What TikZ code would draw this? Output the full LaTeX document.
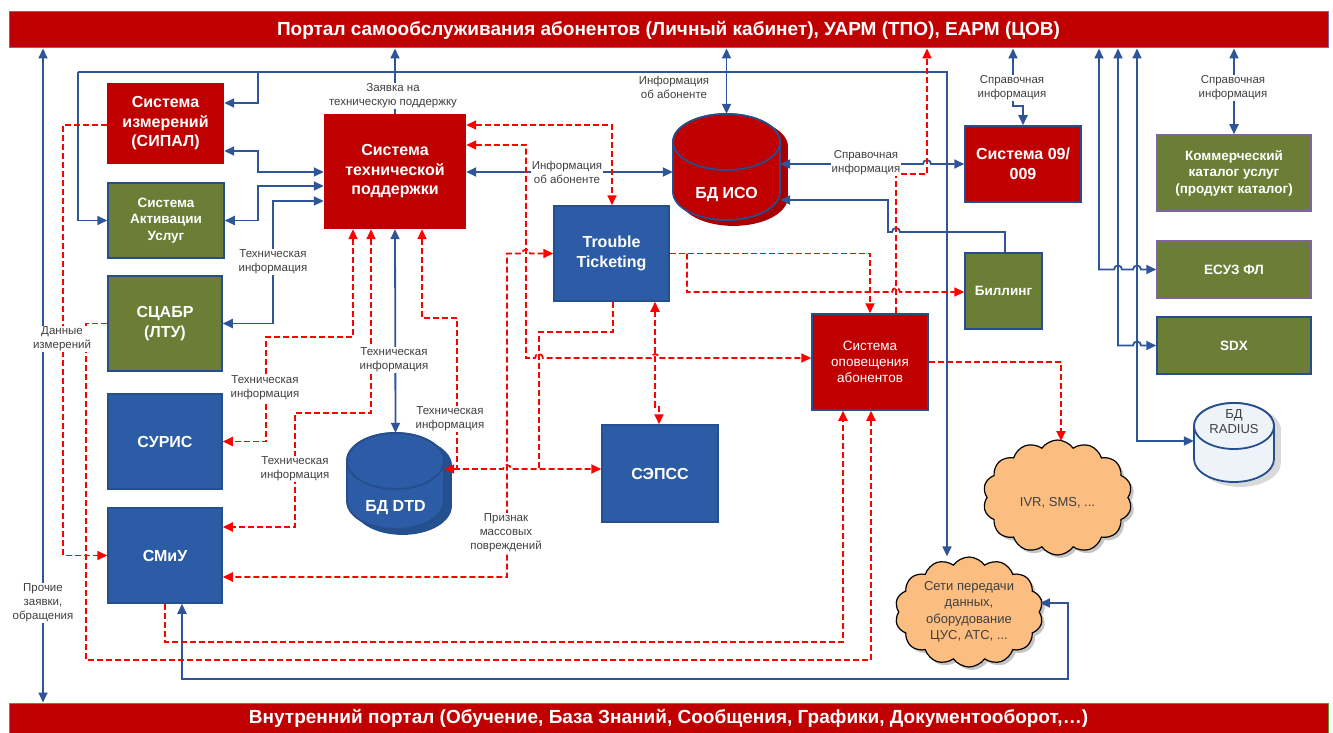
\documentclass[tikz,border=0pt]{standalone}
\usepackage{fontspec}
\setmainfont{Liberation Sans}
\usetikzlibrary{arrows.meta,shapes.symbols,shadows}
\definecolor{cred}{HTML}{C00000}
\definecolor{shadred}{HTML}{A80000}
\definecolor{cblue}{HTML}{2B5CA5}
\definecolor{shadblue}{HTML}{24508F}
\definecolor{cgreen}{HTML}{6A7E36}
\definecolor{lblue}{HTML}{2E5597}
\definecolor{lred}{HTML}{FF0000}
\definecolor{bdblue}{HTML}{264E8C}
\definecolor{bdpurp}{HTML}{8064A2}
\definecolor{bargreen}{HTML}{4F9A3A}
\definecolor{corange}{HTML}{FBBE80}
\definecolor{tgray}{HTML}{404040}
\definecolor{radfill}{HTML}{EEF3FA}
\newcommand\mycyl[7]{%
 \path[fill=#6,draw=#7,line width=1.8pt] (#1-#4,#2) -- (#1-#4,#3) arc[start angle=180,end angle=360,x radius=#4pt,y radius=#5pt] -- (#1+#4,#2) arc[start angle=0,end angle=180,x radius=#4pt,y radius=#5pt] -- cycle;
 \path[fill=#6,draw=#7,line width=1.8pt] (#1,#2) ellipse[x radius=#4pt,y radius=#5pt];}
\begin{document}
\begin{tikzpicture}[x=1pt,y=-1pt,>={Triangle[length=10pt,width=9pt]},
 box/.style={rectangle,inner sep=2pt,align=center,text=white,font=\bfseries\fontsize{16}{19.5}\selectfont},
 smallbox/.style={box,font=\bfseries\fontsize{13.5}{16.5}\selectfont},
 bar/.style={rectangle,fill=cred,draw=bdpurp,line width=1pt,text=white,font=\bfseries\fontsize{19}{22}\selectfont,minimum width=1319pt},
 lbl/.style={fill=white,inner sep=1pt,align=center,text=tgray,font=\fontsize{11.5}{14}\selectfont},
 cldtext/.style={align=center,text=tgray,font=\fontsize{13}{16.5}\selectfont},
 bl/.style={draw=lblue,line width=1.8pt},
 rd/.style={draw=lred,line width=1.8pt,dash pattern=on 6pt off 3pt},
 cld/.style={cloud,cloud puffs=14,cloud puff arc=110,draw=black,line width=1.2pt,fill=corange,inner sep=0pt,drop shadow={shadow xshift=3pt,shadow yshift=-3pt,fill=black!45}}
]
\useasboundingbox (0,0) rectangle (1333,733);
\fill[white] (0,0) rectangle (1333,733);

% bars
\node[bar,minimum height=36pt] (top) at (668.5,30) {Портал самообслуживания абонентов (Личный кабинет), УАРМ (ТПО), ЕАРМ (ЦОВ)};
\node[bar,draw=bargreen,minimum height=31pt] (bot) at (668.5,718.5) {Внутренний портал (Обучение, База Знаний, Сообщения, Графики, Документооборот,…)};

% boxes
\node[box,fill=cred,minimum width=117pt,minimum height=81pt] (sipal) at (165.5,123.5) {Система\\измерений\\(СИПАЛ)};
\node[smallbox,fill=cgreen,draw=bdblue,line width=1.5pt,minimum width=116pt,minimum height=75pt] (akt) at (166,220.5) {Система\\Активации\\Услуг};
\node[box,fill=cgreen,draw=bdblue,line width=1.5pt,minimum width=114pt,minimum height=95pt] (scabr) at (165,323.5) {СЦАБР\\(ЛТУ)};
\node[box,fill=cblue,draw=shadblue,line width=1.5pt,minimum width=114pt,minimum height=95pt] (suris) at (165,441.5) {СУРИС};
\node[box,fill=cblue,draw=shadblue,line width=1.5pt,minimum width=114pt,minimum height=95pt] (smiu) at (165,555.5) {СМиУ};
\node[box,fill=cred,minimum width=142pt,minimum height=115pt] (tp) at (395,171.5) {Система\\технической\\поддержки};
\node[box,fill=cblue,draw=shadblue,line width=1.5pt,minimum width=115pt,minimum height=95pt] (tt) at (611.5,253.5) {Trouble\\Ticketing};
\node[box,fill=cred,draw=bdblue,line width=1.5pt,minimum width=116pt,minimum height=76pt] (s09) at (1023,164) {Система 09/\\009};
\node[smallbox,fill=cgreen,draw=bdpurp,line width=1.5pt,minimum width=154pt,minimum height=76pt] (kom) at (1234,173) {Коммерческий\\каталог услуг\\(продукт каталог)};
\node[smallbox,fill=cgreen,draw=bdpurp,line width=1.5pt,minimum width=154pt,minimum height=57pt] (esuz) at (1234,269.5) {ЕСУЗ ФЛ};
\node[smallbox,fill=cgreen,draw=bdblue,line width=1.5pt,minimum width=154pt,minimum height=57pt] (sdx) at (1234,345.5) {SDX};
\node[smallbox,fill=cgreen,draw=bdblue,line width=1.5pt,minimum width=77pt,minimum height=76pt] (bill) at (1003.5,291) {Биллинг};
\node[box,fill=cred,draw=bdblue,line width=1.5pt,font=\fontsize{13.5}{16}\selectfont,minimum width=116pt,minimum height=96pt] (opov) at (870,362) {Система\\оповещения\\абонентов};
\node[box,fill=cblue,draw=shadblue,line width=1.5pt,minimum width=116pt,minimum height=97pt] (seps) at (660,473.5) {СЭПСС};

% cylinders
\node[inner sep=0,minimum width=107pt,minimum height=106pt] (iso) at (726.5,167) {};
\begin{scope}[shift={(7,5)}]\mycyl{726.5}{142}{192}{53.5}{28}{shadred}{shadred}\end{scope}
\mycyl{726.5}{142}{192}{53.5}{28}{cred}{bdblue}
\node[box] at (726.5,195) {БД ИСО};

\node[inner sep=0,minimum width=97pt,minimum height=96pt] (dtd) at (395.5,481) {};
\begin{scope}[shift={(7,5)}]\mycyl{395.5}{461}{501}{48.5}{28}{shadblue}{shadblue}\end{scope}
\mycyl{395.5}{461}{501}{48.5}{28}{cblue}{bdblue}
\node[box] at (395.5,508) {БД DTD};

\node[inner sep=0,minimum width=80pt,minimum height=79pt] (radius) at (1234,442.5) {};
\begin{scope}[shift={(6,4)}]\mycyl{1234}{426}{459}{40}{23}{black!15}{black!15}\end{scope}
\mycyl{1234}{426}{459}{40}{23}{radfill}{bdblue}
\node[align=center,text=tgray,font=\fontsize{13}{15}\selectfont] at (1234,422) {БД\\RADIUS};

% clouds
\node[cld,minimum width=149pt,minimum height=115pt] (ivr) at (1057.5,497.5) {};
\node[cldtext] at (1057.5,503) {IVR, SMS, ...};
\node[cld,minimum width=148pt,minimum height=110pt] (seti) at (969,612) {};
\node[cldtext] at (969,612) {Сети передачи\\данных,\\оборудование\\ЦУС, АТС, ...};

% ---------- blue connectors
\draw[bl,<->] (43,0 |- top.south) -- (43,0 |- bot.north);
\draw[bl,->] (258,72) |- (sipal.east |- 0,103);
\draw[bl,->] (78,72) |- (akt.west);
\draw[bl,->] (78,72) -- (947,72) -- (947,0 |- seti.north);
\draw[bl,->] (tp.north) -- (tp.north |- top.south);
\draw[bl,<->] (iso.north) -- (iso.north |- top.south);
\draw[bl,<->] (sipal.east |- 0,151) -- (258,151) |- (tp.west |- 0,172);
\draw[bl,<->] (akt.east) -- (258,220.5) |- (tp.west |- 0,186);
\draw[bl,<->] (scabr.east) -- (273,323.5) |- (tp.west |- 0,201);
\draw[bl,<->] (tp.east |- 0,172) -- (iso.west |- 0,172);
\draw[bl,<->] (tp.south) -- (dtd.north);
\draw[bl,<->] (iso.east |- 0,164) -- (923,164) arc[start angle=180,end angle=0,radius=4pt] -- (s09.west);
\draw[bl,->] (1005,0 |- bill.north) -- (1005,232) -- (900,232) arc[start angle=0,end angle=180,radius=4pt] -- (888,232) -- (888,200) -- (iso.east |- 0,200);
\draw[bl,<->] (1013,0 |- top.south) -- (1013,106) -| (s09.north);
\draw[bl,<->] (kom.north) -- (kom.north |- top.south);
\draw[bl,<->] (1099,0 |- top.south) -- (1099,269.5) -- (1114,269.5) arc[start angle=180,end angle=0,radius=4pt] -- (1133,269.5) arc[start angle=180,end angle=0,radius=4pt] -- (esuz.west);
\draw[bl,<->] (1118,0 |- top.south) -- (1118,345.5) -- (1133,345.5) arc[start angle=180,end angle=0,radius=4pt] -- (sdx.west);
\draw[bl,<->] (1137,0 |- top.south) -- (1137,441) -- (radius.west |- 0,441);
\draw[bl,<->] (182,0 |- smiu.south) -- (182,679) -- (1068,679) -- (1068,603) -- (seti.east |- 0,603);

% ---------- red dashed connectors
\draw[rd,->] (sipal.west |- 0,125) -- (63,125) |- (smiu.west);
\draw[rd,->] (scabr.west) -- (86,323.5) -- (86,660) -- (871,660) -- (871,0 |- opov.south);
\draw[rd,->] (smiu.south) -- (165,642) -- (843,642) -- (843,0 |- opov.south);
\draw[rd,<->] (tp.east |- 0,125) -- (612,125) -- (612,0 |- tt.north);
\draw[rd,<->] (tp.east |- 0,145) -- (526,145) -- (526,358) -- (535,358) arc[start angle=180,end angle=0,radius=4pt] -- (651,358) arc[start angle=180,end angle=0,radius=4pt] -- (opov.west |- 0,358);
\draw[rd,<->] (tt.west) -- (530,253.5) arc[start angle=0,end angle=180,radius=4pt] -- (507,253.5) -- (507,577) -- (smiu.east |- 0,577);
\draw[rd,<->] (dtd.east |- 0,469) -- (503,469) arc[start angle=180,end angle=0,radius=4pt] -- (seps.west |- 0,469);
\draw[rd,<-] (422,0 |- tp.south) -- (422,318) -- (457,318) -- (457,469);
\draw[rd] (613,0 |- tt.south) -- (613,332) -- (539,332) -- (539,469);
\draw[rd,<->] (655,0 |- tt.south) -- (655,407) -- (659,407) -- (659,0 |- seps.north);
\draw[rd,<->] (353,0 |- tp.south) -- (353,337) -- (266,337) -- (266,441.5) -- (suris.east);
\draw[rd,<->] (371,0 |- tp.south) -- (371,413) -- (295,413) -- (295,527) -- (smiu.east |- 0,527);
\draw[rd,->] (tt.east) -- (870,253.5) -- (opov.north);
\draw[rd,->] (687,253.5) -- (687,292) -- (892,292) arc[start angle=180,end angle=0,radius=4pt] -- (bill.west |- 0,292);
\draw[rd,->] (896,0 |- opov.north) -- (896,174) -- (927,174) -- (927,0 |- top.south);
\draw[rd,->] (opov.east) -- (1061,362) -- (1061,441);

% ---------- labels
\node[lbl] at (393,96) {Заявка на\\техническую поддержку};
\node[lbl,fill=none] at (674,87) {Информация\\об абоненте};
\node[lbl] at (567,172) {Информация\\об абоненте};
\node[lbl] at (1012,88) {Справочная\\информация};
\node[lbl] at (1233,88) {Справочная\\информация};
\node[lbl] at (866,163) {Справочная\\информация};
\node[lbl] at (273,262) {Техническая\\информация};
\node[lbl] at (265,388) {Техническая\\информация};
\node[lbl] at (295,469) {Техническая\\информация};
\node[lbl] at (394,360) {Техническая\\информация};
\node[lbl] at (450,419) {Техническая\\информация};
\node[lbl] at (62,339) {Данные\\измерений};
\node[lbl] at (43,603) {Прочие\\заявки,\\обращения};
\node[lbl] at (506,533) {Признак\\массовых\\повреждений};
\end{tikzpicture}
\end{document}
